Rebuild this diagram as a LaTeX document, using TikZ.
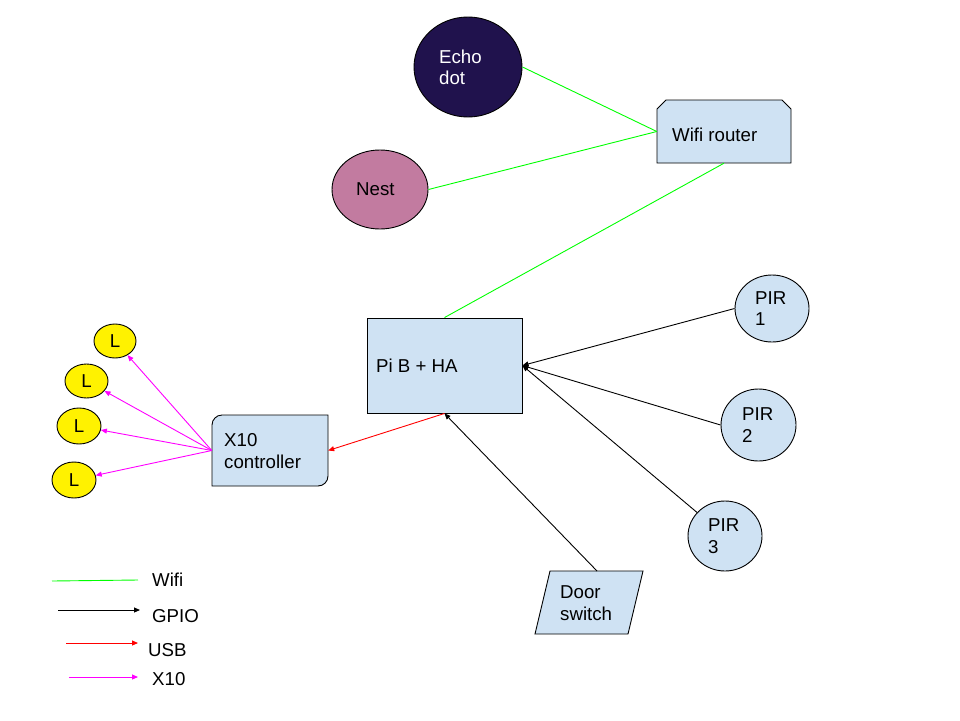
\documentclass[tikz,border=0pt]{standalone}
\usepackage{fontspec}
\setmainfont{Liberation Sans}
\usetikzlibrary{shapes.geometric,arrows.meta}
\definecolor{boxblue}{HTML}{CFE2F3}
\definecolor{echofill}{HTML}{20124D}
\definecolor{nestfill}{HTML}{C27BA0}
\definecolor{wifigreen}{HTML}{00FF00}
\definecolor{usbred}{HTML}{FF0000}
\definecolor{xmag}{HTML}{FF00FF}
\tikzset{
  txt/.style={font=\fontsize{18.67}{21.5}\selectfont, align=left, inner sep=0pt, anchor=west},
  shp/.style={draw=black, line width=0.9pt, fill=boxblue},
  ell/.style={ellipse, draw=black, line width=0.9pt, inner sep=0pt},
  frame/.style={inner sep=0pt, draw=none, fill=none},
  wifi/.style={draw=wifigreen, line width=0.9pt},
  gpio/.style={draw=black, line width=0.9pt, -{Triangle[length=6pt,width=5pt]}},
  usb/.style={draw=usbred, line width=0.9pt, -{Triangle[length=6pt,width=5pt]}},
  xten/.style={draw=xmag, line width=0.9pt, -{Triangle[length=6pt,width=5pt]}},
}
\begin{document}
\begin{tikzpicture}[x=1pt,y=-1pt]
\useasboundingbox[fill=white] (0,0) rectangle (960,720);

% Ellipses
\node[ell, fill=echofill, minimum width=108pt, minimum height=100pt] (echo) at (468,67) {};
\node[txt, text=white] (echolbl) at (439,67.5) {Echo\\dot};
\node[ell, fill=nestfill, minimum width=96pt, minimum height=79pt] (nest) at (380,189.5) {};
\node[txt] (nestlbl) at (356,189) {Nest};

% Wifi router (snipped top corners)
\draw[shp] (657,163) -- (657,109) -- (666,100) -- (782,100) -- (791,109) -- (791,163) -- cycle;
\node[frame, minimum width=134pt, minimum height=63pt] (router) at (724,131.5) {};
\node[txt] (routerlbl) at (672,135) {Wifi router};

% Pi
\node[shp, rectangle, minimum width=155pt, minimum height=95pt, inner sep=0pt] (pi) at (444.5,365.5) {};
\node[txt] (pilbl) at (376,366) {Pi B + HA};

% X10 controller
\draw[shp] (212,486) -- (212,425) arc[start angle=180,end angle=270,radius=10] -- (328,415) -- (328,476) arc[start angle=0,end angle=90,radius=10] -- cycle;
\node[frame, minimum width=116pt, minimum height=71pt] (x10) at (270,450.5) {};
\node[txt] (x10lbl) at (224,451) {X10\\controller};

% PIRs
\node[ell, fill=boxblue, minimum width=74pt, minimum height=67pt] (pir1) at (772,308.5) {};
\node[txt] (pir1lbl) at (755,308.5) {PIR\\1};
\node[ell, fill=boxblue, minimum width=75pt, minimum height=72pt] (pir2) at (758.5,425) {};
\node[txt] (pir2lbl) at (742,425) {PIR\\2};
\node[ell, fill=boxblue, minimum width=74pt, minimum height=70pt] (pir3) at (725,536) {};
\node[txt] (pir3lbl) at (708,536) {PIR\\3};

% Door switch
\draw[shp] (550,571) -- (643,571) -- (628,634) -- (535,634) -- cycle;
\coordinate (doortop) at (597,571);
\node[txt] (doorlbl) at (560,603) {Door\\switch};

% L lamps
\node[ell, fill=yellow, minimum width=42pt, minimum height=34pt] (l1) at (115,341) {};
\node[ell, fill=yellow, minimum width=43pt, minimum height=34pt] (l2) at (86.5,381) {};
\node[ell, fill=yellow, minimum width=44pt, minimum height=36pt] (l3) at (79,426) {};
\node[ell, fill=yellow, minimum width=44pt, minimum height=36pt] (l4) at (74,480) {};
\node[txt, anchor=center] (l1lbl) at (l1) {L};
\node[txt, anchor=center] (l2lbl) at (l2) {L};
\node[txt, anchor=center] (l3lbl) at (l3) {L};
\node[txt, anchor=center] (l4lbl) at (l4) {L};

% Connectors
\draw[wifi] (echo.east) -- (router.west);
\draw[wifi] (nest.east) -- (router.west);
\draw[wifi] (router.south) -- (pi.north);
\draw[gpio] (pir1.west) -- (pi.east);
\draw[gpio] (pir2.west) -- (pi.east);
\draw[gpio] (pir3) -- (pi.east);
\draw[gpio] (doortop) -- (pi.south);
\draw[usb] (pi.south) -- (x10.east);
\draw[xten] (x10.west) -- (l1);
\draw[xten] (x10.west) -- (l2);
\draw[xten] (x10.west) -- (l3);
\draw[xten] (x10.west) -- (l4);

% Legend
\coordinate (lw1) at (52,581); \coordinate (lw2) at (138,580);
\coordinate (lg1) at (58,610); \coordinate (lg2) at (140,610);
\coordinate (lu1) at (66,643); \coordinate (lu2) at (138,643);
\coordinate (lx1) at (69,677); \coordinate (lx2) at (138,677);
\draw[wifi] (lw1) -- (lw2);
\draw[gpio] (lg1) -- (lg2);
\draw[usb] (lu1) -- (lu2);
\draw[xten] (lx1) -- (lx2);
\node[txt] (legwifi) at (152,580) {Wifi};
\node[txt] (leggpio) at (152,616) {GPIO};
\node[txt] (legusb) at (148,650) {USB};
\node[txt] (legx10) at (152,679) {X10};
\end{tikzpicture}
\end{document}
